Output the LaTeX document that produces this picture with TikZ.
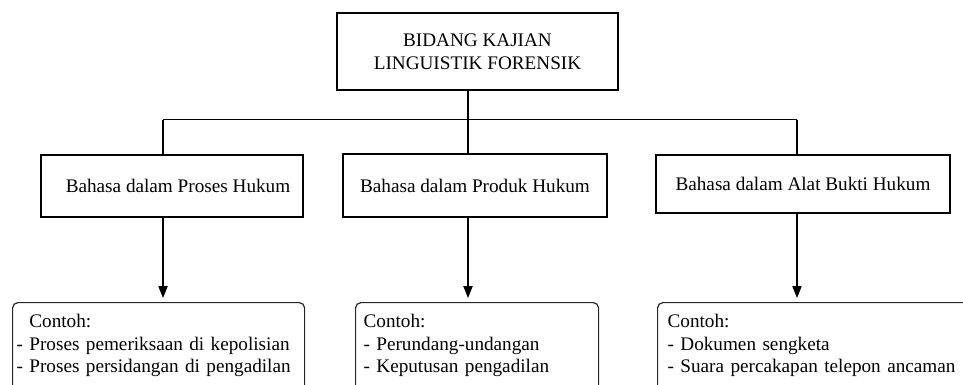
\documentclass[tikz,border=0pt]{standalone}
\usepackage{fontspec}
\setmainfont{Liberation Serif}
\usetikzlibrary{arrows.meta,positioning}
\tikzset{
  judul/.style={draw=black, line width=1.1pt, minimum width=210.75pt,
                minimum height=57.75pt, align=center, inner sep=0pt},
  bidang/.style={draw=black, line width=1pt, inner sep=0pt},
  contoh/.style={draw=black!85, line width=0.9pt, rounded corners=4pt,
                 anchor=north west, align=left, inner ysep=9pt, text depth=80pt},
  garis/.style={line width=0.8pt},
  ch/.style={-{Triangle[length=9pt,width=7pt]}, line width=0.8pt, shorten >=3pt},
}

\begin{document}
\begin{tikzpicture}[x=0.75pt, y=-0.75pt, font=\fontsize{14.4}{16.9}\selectfont]
    \useasboundingbox (0,0) rectangle (963,385);
    \clip (0,0) rectangle (963,385);
    \node[judul] (lf) at (477.5,51.5) {BIDANG KAJIAN\\LINGUISTIK FORENSIK};
    \node[bidang, minimum width=196.5pt, minimum height=46.5pt] (proses) at (172,186)
      {\hspace*{9pt}Bahasa dalam Proses Hukum};
    \node[bidang, minimum width=198pt, minimum height=47.25pt] (produk) at (475,185.5)
      {Bahasa dalam Produk Hukum};
    \node[bidang, minimum width=220.5pt, minimum height=43.5pt] (bukti) at (803,184)
      {Bahasa dalam Alat Bukti Hukum};
    \node[contoh, inner xsep=3pt, text width=213pt] (c1) at (12,302)
      {\phantom{- }Contoh:\\- Proses pemeriksaan di kepolisian\\- Proses persidangan di pengadilan};
    \node[contoh, inner xsep=6pt, text width=170.25pt] (c2) at (355,302)
      {Contoh:\\- Perundang-undangan\\- Keputusan pengadilan};
    \node[contoh, inner xsep=7.5pt, text width=230pt] (c3) at (657,302)
      {Contoh:\\- Dokumen sengketa\\- Suara percakapan telepon ancaman};
    \coordinate (kiri) at (163,119.5);
    \coordinate (tengah) at (468,119.5);
    \coordinate (kanan) at (797,119.5);
    \draw[garis] (kiri) -- (kanan);
    \draw[garis] (lf.south -| tengah) -- (tengah);
    \draw[garis] (kiri) -- (kiri |- proses.north);
    \draw[garis] (tengah) -- (tengah |- produk.north);
    \draw[garis] (kanan) -- (kanan |- bukti.north);
    \draw[ch] (proses.south -| kiri) -- (c1.north -| kiri);
    \draw[ch] (produk.south -| tengah) -- (c2.north -| tengah);
    \draw[ch] (bukti.south -| kanan) -- (c3.north -| kanan);
  \end{tikzpicture}
\end{document}
